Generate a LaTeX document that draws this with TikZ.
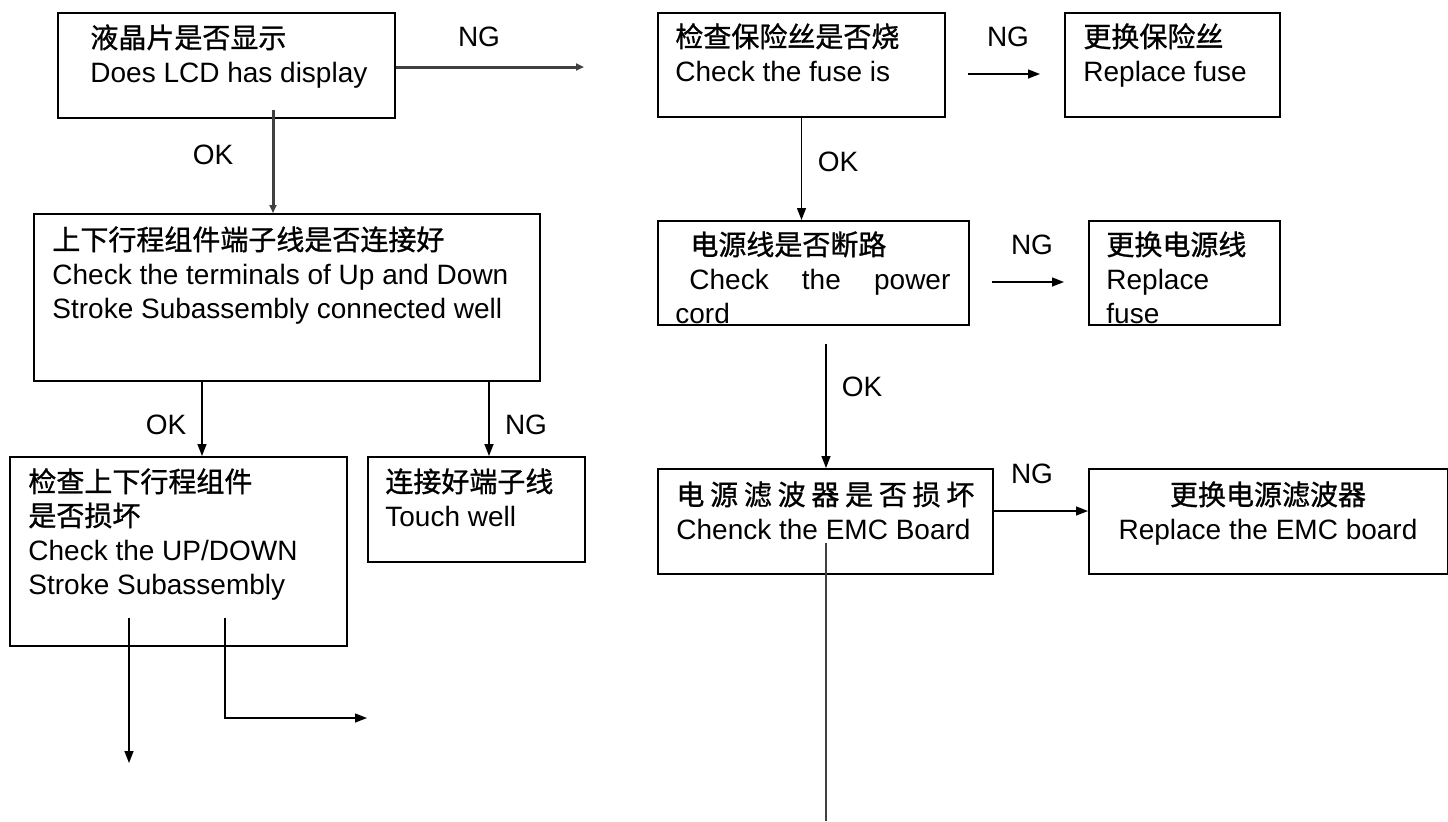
\documentclass[tikz,border=0pt]{standalone}
\usepackage{fontspec}
\setmainfont{Liberation Sans}
\newfontfamily\cjk[FakeBold=1]{Noto Sans CJK SC}
\usetikzlibrary{arrows.meta}
\newcommand{\lns}[1]{\begin{tabular}[t]{@{}l@{}}#1\end{tabular}}
\newcommand{\clns}[1]{\begin{tabular}[t]{@{}c@{}}#1\end{tabular}}

\begin{document}
\begin{tikzpicture}[x=0.5pt,y=-0.5pt,
    box/.style={draw=black,line width=1pt,anchor=north west},
    txt/.style={anchor=base west},
    flow/.style={line width=0.7pt,-{Triangle[length=6pt,width=4.5pt]}},
    bold/.style={line width=1.5pt,draw=black!75,-{Triangle[length=4pt,width=3.5pt]}}]
    \tikzstyle{every node}+=[inner sep=0pt,font=\fontsize{14pt}{17pt}\selectfont]
    \useasboundingbox (0,0) rectangle (1448,821);
    \node[box,minimum width=168.5pt,minimum height=52.5pt] (lcd) at (57,12) {};
    \node[box,minimum width=143.5pt,minimum height=52pt] (fuse) at (657,12) {};
    \node[box,minimum width=107.5pt,minimum height=52pt] (newfuse) at (1064,12) {};
    \node[box,minimum width=253pt,minimum height=83.5pt] (term) at (33,213) {};
    \node[box,minimum width=155.5pt,minimum height=52pt] (cord) at (657,220) {};
    \node[box,minimum width=95.5pt,minimum height=52pt] (newcord) at (1088,220) {};
    \node[box,minimum width=167.5pt,minimum height=52.5pt] (emc) at (657,468) {};
    \node[box,minimum width=179.5pt,minimum height=52.5pt] (newemc) at (1088,468) {};
    \node[box,minimum width=168.5pt,minimum height=94.5pt] (stroke) at (9,456) {};
    \node[box,minimum width=108.5pt,minimum height=52.5pt] (touch) at (367,456) {};
    \node[txt] (lcdT) at (90,48) {\lns{{\cjk 液晶片是否显示}\\Does LCD has display}};
    \node[txt] (fuseT) at (675,47) {\lns{{\cjk 检查保险丝是否烧}\\Check the fuse is}};
    \node[txt] (newfuseT) at (1083,47) {\lns{{\cjk 更换保险丝}\\Replace fuse}};
    \node[txt] (termT) at (52,250) {\lns{{\cjk 上下行程组件端子线是否连接好}\\Check the terminals of Up and Down\\Stroke Subassembly connected well}};
    \node[txt] (cordT) at (675,255) {\lns{\hspace*{7.5pt}{\cjk 电源线是否断路}\\\hspace*{7pt}\hbox to 130.5pt{Check\hfill the\hfill power}\\cord}};
    \node[txt] (newcordT) at (1106,255) {\lns{{\cjk 更换电源线}\\Replace\\fuse}};
    \node[txt] (emcT) at (676,505) {\lns{\hbox to 149pt{\cjk 电\hfill 源\hfill 滤\hfill 波\hfill 器\hfill 是\hfill 否\hfill 损\hfill 坏}\\Chenck the EMC Board}};
    \node[anchor=base] (newemcT) at (1268,505) {\clns{{\cjk 更换电源滤波器}\\Replace the EMC board}};
    \node[txt] (strokeT) at (28,492) {\lns{{\cjk 检查上下行程组件}\\{\cjk 是否损坏}\\Check the UP/DOWN\\Stroke Subassembly}};
    \node[txt] (touchT) at (385,492) {\lns{{\cjk 连接好端子线}\\Touch well}};
    \node (ng1) at (479,37) {NG};
    \node (ok1) at (213,155) {OK};
    \node (ng2) at (1008,37) {NG};
    \node (ok2) at (838,162) {OK};
    \node (ng3) at (1032,245) {NG};
    \node (ok3) at (862,387) {OK};
    \node (ng4) at (1032,474) {NG};
    \node (ok4) at (166,425) {OK};
    \node (ng5) at (526,425) {NG};
    \coordinate (lcdNG) at (584,67);
    \coordinate (lcdOK) at (273,110);
    \coordinate (fuseNG) at (968,74);
    \coordinate (fuseEnd) at (1040,74);
    \coordinate (cordNG) at (992,282);
    \coordinate (cordEnd) at (1064,282);
    \coordinate (cordOK) at (826,344);
    \coordinate (emcNG) at (992,511);
    \coordinate (emcOK) at (826,543);
    \coordinate (emcEnd) at (826,821);
    \coordinate (termOK) at (202,380);
    \coordinate (termNG) at (489,380);
    \coordinate (strokeA) at (129,618);
    \coordinate (strokeAEnd) at (129,763);
    \coordinate (strokeB) at (225,618);
    \coordinate (strokeBEnd) at (367,718);
    \draw[bold] (lcd.east |- lcdNG) -- (lcdNG);
    \draw[bold] (lcdOK) -- (lcdOK |- term.north);
    \draw[flow] (fuse.south) -- (fuse.south |- cord.north);
    \draw[flow] (fuseNG) -- (fuseEnd);
    \draw[flow] (cordNG) -- (cordEnd);
    \draw[flow] (cordOK) -- (cordOK |- emc.north);
    \draw[flow] (emcNG) -- (emcNG -| newemc.west);
    \draw[line width=1pt,black!75] (emcOK) -- (emcEnd);
    \draw[flow] (termOK) -- (termOK |- stroke.north);
    \draw[flow] (termNG) -- (termNG |- touch.north);
    \draw[flow] (strokeA) -- (strokeAEnd);
    \draw[flow] (strokeB) |- (strokeBEnd);
\end{tikzpicture}
\end{document}
